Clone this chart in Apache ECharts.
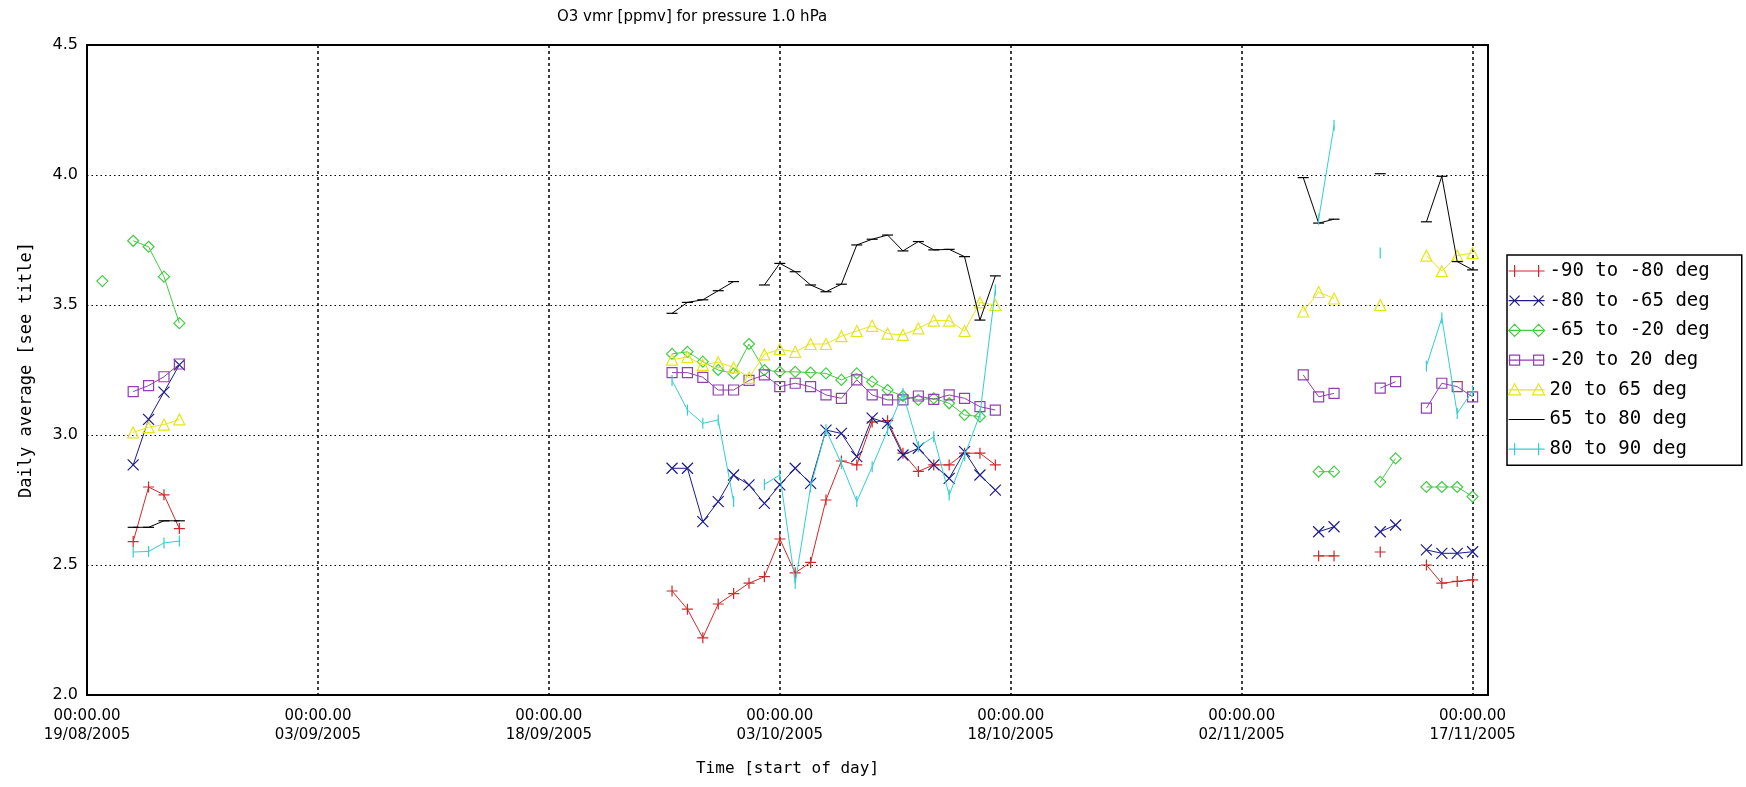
<!DOCTYPE html>
<html><head><meta charset="utf-8">
<script src="https://cdn.jsdelivr.net/npm/echarts@6/dist/echarts.min.js"></script>
<style>html,body{margin:0;padding:0;background:#fff}#c{width:1746px;height:787px}</style>
</head><body><div id="c"></div>
<script>
// ---- data ----
const dates = [
  '2005-08-20','2005-08-22','2005-08-23','2005-08-24','2005-08-25',
  '2005-09-26','2005-09-27','2005-09-28','2005-09-29','2005-09-30','2005-10-01','2005-10-02','2005-10-03',
  '2005-10-04','2005-10-05','2005-10-06','2005-10-07','2005-10-08','2005-10-09','2005-10-10','2005-10-11',
  '2005-10-12','2005-10-13','2005-10-14','2005-10-15','2005-10-16','2005-10-17',
  '2005-11-06','2005-11-07','2005-11-08','2005-11-11','2005-11-12','2005-11-14','2005-11-15','2005-11-16','2005-11-17'
];
const sM90M80 = [null,2.59,2.80,2.77,2.64,
  2.40,2.33,2.22,2.35,2.39,2.43,2.455,2.60,2.47,2.51,2.75,2.90,2.885,3.05,3.055,2.93,2.86,2.885,2.885,2.93,2.93,2.885,
  null,2.535,2.535,2.55,null,2.50,2.43,2.437,2.443];
const sM80M65 = [null,2.885,3.06,3.165,3.27,
  2.872,2.872,2.667,2.744,2.846,2.808,2.737,2.808,2.872,2.814,3.019,3.006,2.917,3.065,3.045,2.923,2.949,2.885,2.833,2.936,2.846,2.788,
  null,2.628,2.647,2.628,2.654,2.558,2.545,2.545,2.551];
const sM65M20 = [3.592,3.747,3.724,3.609,3.43,
  3.312,3.32,3.282,3.25,3.237,3.35,3.25,3.243,3.243,3.24,3.237,3.212,3.237,3.205,3.173,3.15,3.135,3.141,3.122,3.077,3.071,null,
  null,2.859,2.859,2.82,2.91,2.80,2.80,2.80,2.763];
const sM20P20 = [null,3.167,3.19,3.224,3.273,
  3.24,3.24,3.222,3.173,3.173,3.21,3.231,3.186,3.199,3.186,3.154,3.141,3.212,3.154,3.135,3.135,3.15,3.137,3.154,3.141,3.109,3.096,
  3.231,3.147,3.16,3.18,3.205,3.103,3.199,3.186,3.147];
const sP20P65 = [null,3.01,3.03,3.04,3.06,
  3.29,3.30,3.27,3.28,3.26,3.22,3.31,3.33,3.32,3.35,3.35,3.38,3.40,3.42,3.39,3.385,3.41,3.44,3.44,3.40,3.51,3.50,
  3.475,3.55,3.525,3.50,null,3.69,3.63,3.69,3.70];
const sP65P80 = [null,2.645,2.645,2.67,2.67,
  3.468,3.51,3.52,3.555,3.59,null,3.577,3.66,3.628,3.577,3.551,3.58,3.731,3.753,3.769,3.708,3.744,3.712,3.714,3.686,3.442,3.612,
  3.99,3.815,3.83,4.005,null,3.82,3.995,3.667,3.635];
const sP80P90 = [null,2.55,2.552,2.585,2.592,
  3.21,3.096,3.045,3.058,2.744,null,2.81,2.846,2.43,2.80,3.02,2.89,2.744,2.878,3.019,3.16,2.955,2.993,2.769,2.92,3.08,3.558,
  null,3.83,4.19,3.70,null,3.265,3.45,3.083,3.17];
const seriesNames = ['-90 to -80 deg','-80 to -65 deg','-65 to -20 deg','-20 to 20 deg','20 to 65 deg','65 to 80 deg','80 to 90 deg'];
const tickTimes = '00:00.00';
const tickDates = ['19/08/2005','03/09/2005','18/09/2005','03/10/2005','18/10/2005','02/11/2005','17/11/2005'];

// ---- styling ----
const colors = ['#d02828','#1c1c8c','#44cc44','#9040b0','#e6e61a','#000000','#30d0d0'];
const symbols = [
  'path://M5,0L5,10M0,5L10,5',
  'path://M0,0L10,10M10,0L0,10',
  'path://M5,0L10,5L5,10L0,5Z',
  'path://M0,0L10,0L10,10L0,10Z',
  'path://M5,0L10,10L0,10Z',
  'path://M0,0M0,5L10,5M10,10',
  'path://M0,0M5,0L5,10M10,10'
];
const legendIcons = [
  'path://M0,0M36,14M0,7L36,7M6,1L6,13M0,7L12,7M30,1L30,13M24,7L36,7',
  'path://M0,0M36,14M0,7L36,7M1,2L11,12M11,2L1,12M25,2L35,12M35,2L25,12',
  'path://M0,0M36,14M0,7L36,7M6,1L12,7L6,13L0,7ZM30,1L36,7L30,13L24,7Z',
  'path://M0,0M36,14M0,7L36,7M1,2L11,2L11,12L1,12ZM25,2L35,2L35,12L25,12Z',
  'path://M0,0M36,14M0,7L36,7M6,1L12,12L0,12ZM30,1L36,12L24,12Z',
  'path://M0,0M36,14M0,7L36,7',
  'path://M0,0M36,14M0,7L36,7M6,1L6,13M30,1L30,13'
];
const sizes = [11,11,11,10,11,11,11];
const allVals = [sM90M80,sM80M65,sM65M20,sM20P20,sP20P65,sP65P80,sP80P90];
const SANS = 'DejaVu Sans';
const MONO = 'DejaVu Sans Mono';

const day0 = Date.UTC(2005,7,19);
function dayOf(s){const p=s.split('-').map(Number);return (Date.UTC(p[0],p[1]-1,p[2])-day0)/86400000;}
function build(vals){
  const out=[];
  for(let i=0;i<dates.length;i++){
    const x=dayOf(dates[i]);
    if(i>0 && x-dayOf(dates[i-1])>1) out.push([x-0.5,'-']);
    out.push([x, vals[i]==null?'-':vals[i]]);
  }
  return out;
}

const series = allVals.map((v,i)=>({
  name: seriesNames[i], type:'line', data: build(v),
  symbol: symbols[i], symbolSize: sizes[i],
  lineStyle:{color:colors[i], width:1},
  itemStyle:{color:'rgba(0,0,0,0)', borderColor:colors[i], borderWidth:1.2},
  connectNulls:false, emphasis:{disabled:true}, silent:true, z: 2+i
}));

const legendData = seriesNames.map((n,i)=>({
  name:n, icon:legendIcons[i],
  itemStyle:{color:'rgba(0,0,0,0)', borderColor:colors[i], borderWidth:1.2}
}));

const chart = echarts.init(document.getElementById('c'), null, {renderer:'canvas'});
chart.setOption({
  animation:false,
  backgroundColor:'#ffffff',
  title:{text:'O3 vmr [ppmv] for pressure 1.0 hPa', left:552, top:5,
    textStyle:{fontFamily:SANS, fontSize:15, fontWeight:'normal', color:'#000'}},
  grid:{left:87, right:258, top:45, bottom:92, show:true, borderColor:'#000', borderWidth:2,
    backgroundColor:'transparent', containLabel:false, outerBoundsMode:'none'},
  legend:{orient:'vertical', left:1507, top:255, data:legendData,
    borderColor:'#000', borderWidth:1.5, backgroundColor:'#fff',
    padding:[6,32,6,1], itemGap:9.7, itemWidth:36, itemHeight:14, selectedMode:false,
    textStyle:{fontFamily:MONO, fontSize:19, lineHeight:20, color:'#000'}},
  xAxis:{type:'value', min:0, max:91, interval:15,
    name:'Time [start of day]', nameLocation:'middle', nameGap:66,
    nameTextStyle:{fontFamily:MONO, fontSize:16, color:'#000'},
    axisLine:{show:false}, axisTick:{show:false},
    axisLabel:{margin:12, fontFamily:SANS, fontSize:15, lineHeight:19, color:'#000',
      showMaxLabel:false, showMinLabel:true,
      formatter:v=>{const k=Math.round(v/15); return (Math.abs(v-15*k)<1e-6 && tickDates[k])? tickTimes+'\n'+tickDates[k] : '';}},
    splitLine:{show:true, lineStyle:{color:'#000', type:[3,3], width:1.5}}},
  yAxis:{type:'value', min:2, max:4.5, interval:0.5,
    name:'Daily average [see title]', nameLocation:'middle', nameGap:52, nameRotate:90,
    nameTextStyle:{fontFamily:MONO, fontSize:17, color:'#000'},
    axisLine:{show:false}, axisTick:{show:false},
    axisLabel:{margin:9, fontFamily:SANS, fontSize:16, color:'#000', formatter:v=>v.toFixed(1)},
    splitLine:{show:true, lineStyle:{color:'#000', type:[1.5,3], width:1.2}}},
  series: series
});
</script></body></html>
